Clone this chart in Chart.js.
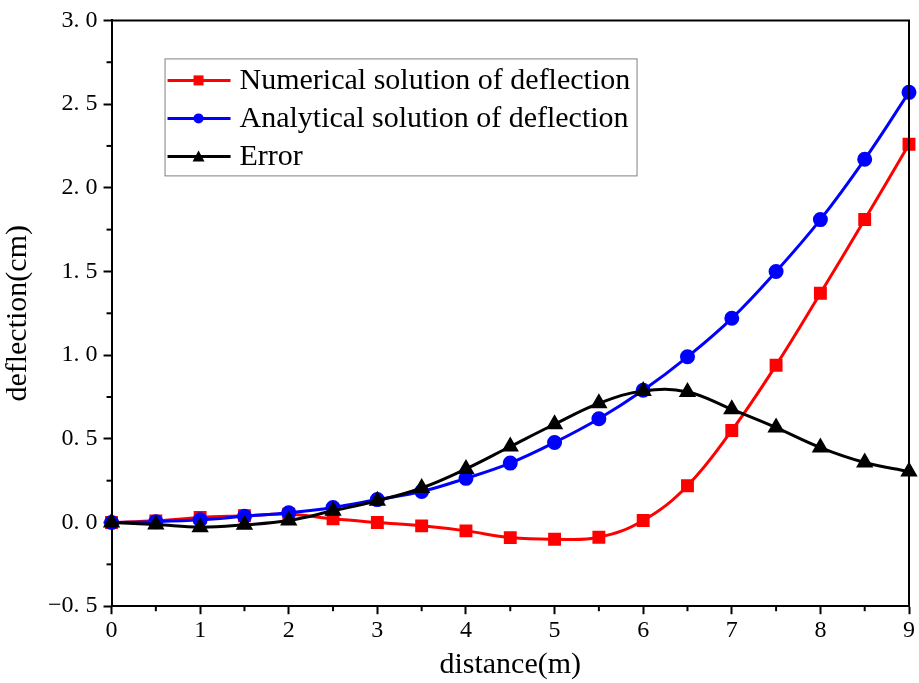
<!DOCTYPE html>
<html>
<head>
<meta charset="utf-8">
<script src="https://cdn.jsdelivr.net/npm/chart.js@4.4.1/dist/chart.umd.min.js"></script>
<style>
  html, body { margin: 0; padding: 0; background: #fff; }
  #wrap { width: 919px; height: 683px; }
</style>
</head>
<body>
<div id="wrap"><canvas id="chart" width="919" height="683"></canvas></div>
<script>
// distance (m)
const distance = [0, 0.5, 1, 1.5, 2, 2.5, 3, 3.5, 4, 4.5, 5, 5.5, 6, 6.5, 7, 7.5, 8, 8.5, 9];

// deflection (cm)
const numerical = [0, 0.01, 0.03, 0.04, 0.05, 0.022, 0.0, -0.02, -0.05, -0.09, -0.10, -0.088, 0.012, 0.22, 0.55, 0.94, 1.37, 1.81, 2.26];
const analytical = [0, 0.005, 0.016, 0.037, 0.058, 0.09, 0.137, 0.185, 0.264, 0.355, 0.478, 0.62, 0.79, 0.99, 1.22, 1.5, 1.81, 2.17, 2.57];
const errorVals = [0, -0.012, -0.028, -0.014, 0.012, 0.07, 0.13, 0.206, 0.32, 0.454, 0.587, 0.712, 0.786, 0.78, 0.676, 0.567, 0.448, 0.359, 0.305];

const seriesNames = ['Numerical solution of deflection', 'Analytical solution of deflection', 'Error'];

const toPoints = vals => vals.map((v, i) => ({ x: distance[i], y: v }));
const FONT = "'Liberation Serif', 'Times New Roman', serif";

// frame on top/right + minor ticks
const framePlugin = {
    id: 'frame',
    afterDraw(chart) {
        const ctx = chart.ctx;
        const a = chart.chartArea;
        ctx.save();
        ctx.strokeStyle = '#000';
        ctx.lineWidth = 2;
        ctx.beginPath();
        ctx.moveTo(a.left, a.top);
        ctx.lineTo(a.right, a.top);
        ctx.lineTo(a.right, a.bottom);
        ctx.stroke();

        // minor ticks
        const xs = chart.scales.x, ys = chart.scales.y;
        xs.ticks.forEach(t => {
            if (Math.abs(t.value - Math.round(t.value)) > 1e-6) {
                const px = xs.getPixelForValue(t.value);
                ctx.beginPath();
                ctx.moveTo(px, a.bottom);
                ctx.lineTo(px, a.bottom + 5);
                ctx.stroke();
            }
        });
        ys.ticks.forEach(t => {
            const r = Math.round(t.value * 2) / 2;
            if (Math.abs(t.value - r) > 1e-6) {
                const py = ys.getPixelForValue(t.value);
                ctx.beginPath();
                ctx.moveTo(a.left, py);
                ctx.lineTo(a.left - 5, py);
                ctx.stroke();
            }
        });
        ctx.restore();
    }
};

// boxed legend drawn from dataset styles
const legendPlugin = {
    id: 'boxLegend',
    afterDraw(chart) {
        const ctx = chart.ctx;
        const a = chart.chartArea;
        const x0 = a.left + 53, y0 = a.top + 38, w = 472, h = 117;
        ctx.save();
        ctx.fillStyle = '#fff';
        ctx.fillRect(x0, y0, w, h);
        ctx.strokeStyle = '#808080';
        ctx.lineWidth = 1;
        ctx.strokeRect(x0 + 0.5, y0 + 0.5, w, h);
        ctx.font = '30px ' + FONT;
        ctx.textBaseline = 'middle';
        chart.data.datasets.forEach((ds, i) => {
            const cy = y0 + 22 + i * 38;
            ctx.strokeStyle = ds.borderColor;
            ctx.lineWidth = 3;
            ctx.beginPath();
            ctx.moveTo(x0 + 3, cy);
            ctx.lineTo(x0 + 66, cy);
            ctx.stroke();
            ctx.fillStyle = ds.borderColor;
            const mx = x0 + 34;
            ctx.beginPath();
            if (ds.pointStyle === 'rect') {
                ctx.rect(mx - 5, cy - 5, 10, 10);
            } else if (ds.pointStyle === 'circle') {
                ctx.arc(mx, cy, 5, 0, Math.PI * 2);
            } else {
                ctx.moveTo(mx, cy - 6);
                ctx.lineTo(mx + 6, cy + 5);
                ctx.lineTo(mx - 6, cy + 5);
                ctx.closePath();
            }
            ctx.fill();
            ctx.fillStyle = '#000';
            ctx.fillText(ds.label, x0 + 75, cy + 1);
        });
        ctx.restore();
    }
};

new Chart(document.getElementById('chart').getContext('2d'), {
    type: 'line',
    data: {
        datasets: [{
            label: seriesNames[0],
            data: toPoints(numerical),
            borderColor: '#ff0000',
            backgroundColor: '#ff0000',
            pointStyle: 'rect',
            pointRadius: 7,
            borderWidth: 3,
            tension: 0.4,
            order: 3
        }, {
            label: seriesNames[1],
            data: toPoints(analytical),
            borderColor: '#0000ff',
            backgroundColor: '#0000ff',
            pointStyle: 'circle',
            pointRadius: 6,
            borderWidth: 3,
            tension: 0.4,
            order: 2
        }, {
            label: seriesNames[2],
            data: toPoints(errorVals),
            borderColor: '#000000',
            backgroundColor: '#000000',
            pointStyle: 'triangle',
            pointRadius: 7,
            borderWidth: 3,
            tension: 0.4,
            order: 1
        }]
    },
    options: {
        responsive: false,
        animation: false,
        clip: false,
        layout: { padding: { top: 6, right: 9, left: 0, bottom: 0 } },
        plugins: {
            legend: { display: false },
            tooltip: { enabled: false }
        },
        elements: { point: { borderWidth: 0 } },
        scales: {
            x: {
                type: 'linear',
                min: 0,
                max: 9,
                ticks: {
                    stepSize: 0.5,
                    autoSkip: false,
                    maxRotation: 0,
                    color: '#000',
                    font: { family: FONT, size: 24 },
                    padding: 2,
                    callback: v => Number.isInteger(v) ? String(v) : ''
                },
                grid: {
                    drawOnChartArea: false,
                    drawTicks: true,
                    tickLength: 8,
                    tickWidth: 2,
                    tickColor: c => Number.isInteger(c.tick.value) ? '#000' : 'rgba(0,0,0,0)'
                },
                border: { display: true, color: '#000', width: 2 },
                title: {
                    display: true,
                    text: 'distance(m)',
                    color: '#000',
                    font: { family: FONT, size: 30 },
                    padding: { top: 0, bottom: 0 }
                }
            },
            y: {
                min: -0.5,
                max: 3.0,
                ticks: {
                    stepSize: 0.25,
                    autoSkip: false,
                    color: '#000',
                    font: { family: FONT, size: 24 },
                    padding: 6,
                    callback: v => {
                        if (Math.abs(v * 2 - Math.round(v * 2)) > 1e-6) return '';
                        const s = Math.abs(v).toFixed(1).replace('.', '. ');
                        return v < 0 ? '\u2212' + s : s;
                    }
                },
                grid: {
                    drawOnChartArea: false,
                    drawTicks: true,
                    tickLength: 8,
                    tickWidth: 2,
                    tickColor: c => Math.abs(c.tick.value * 2 - Math.round(c.tick.value * 2)) < 1e-6 ? '#000' : 'rgba(0,0,0,0)'
                },
                border: { display: true, color: '#000', width: 2 },
                title: {
                    display: true,
                    text: 'deflection(cm)',
                    color: '#000',
                    font: { family: FONT, size: 30 },
                    padding: { top: 0, bottom: 6 }
                }
            }
        }
    },
    plugins: [framePlugin, legendPlugin]
});
</script>
</body>
</html>
